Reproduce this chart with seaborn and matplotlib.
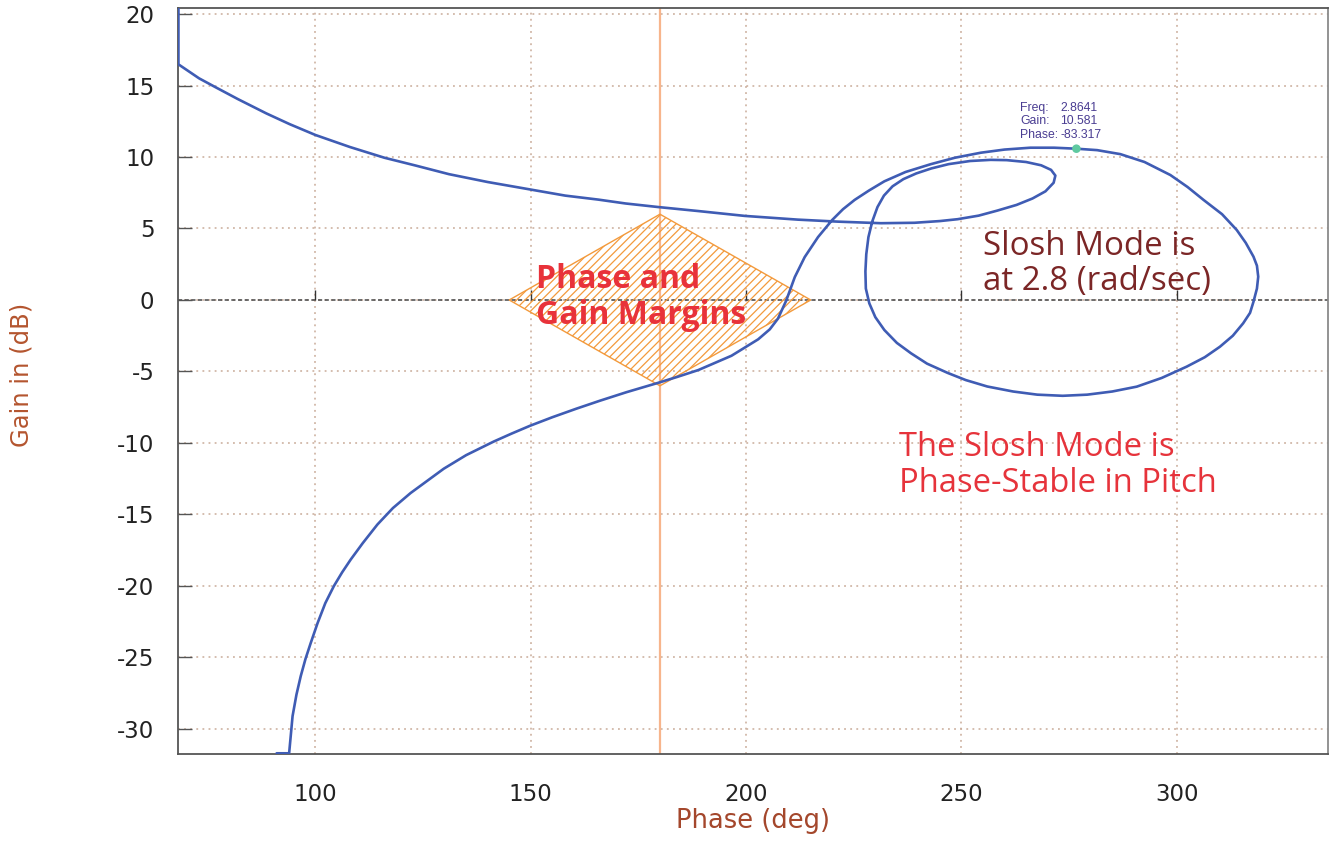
import numpy as np
import pandas as pd
import matplotlib
matplotlib.use("Agg")
import matplotlib.pyplot as plt
import seaborn as sns

# Nichols locus of the pitch loop, ordered along frequency
phase_deg = [
    # low-frequency branch (rising from the bottom)
    91.0, 93.9, 94.7, 95.6, 96.6, 97.7, 98.9, 100.5, 102.3, 104.3, 106.2,
    108.2, 111.0, 114.4, 118.0, 122.1, 129.8, 135.0, 141.4, 145.5, 149.8,
    155.0, 160.6, 166.0, 172.2, 179.5, 184.0, 188.9, 196.6, 202.8, 205.5,
    207.4, 209.3,
    # outer slosh loop
    211.3, 213.6, 216.7, 220.0, 222.5, 225.2, 228.5, 232.1, 237.0, 242.9,
    248.5, 254.5, 260.0, 266.0, 271.5, 276.7, 281.5, 286.9, 292.5, 298.5,
    302.5, 306.2, 310.5, 313.9, 316.0, 317.8, 318.6, 318.9, 318.6, 317.8,
    317.0, 315.4, 313.0, 310.0, 306.5, 302.3, 296.5, 290.7, 285.0, 279.2,
    273.5, 267.6, 262.0, 256.0, 251.0, 246.8, 242.0, 238.3, 235.0, 232.1,
    230.0, 228.6, 227.8, 227.7, 227.9, 228.4, 229.3, 230.5, 232.0, 234.0,
    # inner loop
    236.5, 239.5, 243.0, 247.0, 252.0, 256.8, 260.5, 265.0, 268.5, 270.8,
    271.8, 271.4, 269.5, 266.5, 262.8, 258.3, 254.0, 249.1, 245.0, 239.1,
    231.3,
    # high-frequency branch (running out to the left)
    221.3, 212.0, 199.7, 188.9, 179.6, 172.0, 165.7, 158.0, 150.0, 140.0,
    131.0, 123.3, 116.0, 108.0, 100.0, 94.0, 88.6, 82.0, 77.0, 73.0,
    68.2, 68.2,
]
gain_db = [
    -31.7, -31.7, -29.1, -27.6, -26.3, -25.1, -24.0, -22.6, -21.2, -20.0, -19.05,
    -18.15, -17.0, -15.7, -14.55, -13.5, -11.8, -10.85, -9.9, -9.35, -8.8,
    -8.2, -7.6, -7.05, -6.45, -5.8, -5.38, -4.9, -3.9, -2.75, -2.05,
    -1.3, -0.05,
    1.6, 3.0, 4.4, 5.6, 6.35, 7.0, 7.65, 8.3, 8.95, 9.5,
    9.95, 10.3, 10.52, 10.65, 10.65, 10.58, 10.48, 10.2, 9.65, 8.74,
    7.9, 7.0, 6.0, 4.9, 4.0, 3.03, 2.4, 1.63, 0.8, -0.12,
    -0.9, -1.63, -2.5, -3.27, -4.0, -4.66, -5.45, -6.06, -6.4, -6.62,
    -6.7, -6.62, -6.4, -6.05, -5.6, -5.1, -4.45, -3.73, -3.0, -2.1,
    -1.2, -0.23, 0.8, 2.0, 3.2, 4.4, 5.5, 6.5, 7.3, 7.95,
    8.45, 8.85, 9.2, 9.5, 9.72, 9.8, 9.78, 9.65, 9.42, 9.1,
    8.7, 8.2, 7.6, 7.1, 6.65, 6.25, 5.9, 5.65, 5.52, 5.4,
    5.37,
    5.48, 5.62, 5.88, 6.22, 6.5, 6.75, 7.02, 7.3, 7.72, 8.25,
    8.8, 9.4, 9.95, 10.7, 11.54, 12.3, 13.05, 14.05, 14.85, 15.5,
    16.48, 20.4,
]

# Stability-margin diamond (phase, gain)
margin_phase = [145, 180, 215, 180]
margin_gain = [0, 6, 0, -6]

# Cursor readout at the slosh peak
cursor_freq = 2.8641
cursor_gain = 10.581
cursor_phase = -83.317

x_ticks = [100, 150, 200, 250, 300]
y_ticks = [-30, -25, -20, -15, -10, -5, 0, 5, 10, 15, 20]

sns.set_theme(style="white")
plt.rcParams["font.family"] = ["DejaVu Sans"]
plt.rcParams["axes.unicode_minus"] = False
plt.rcParams["hatch.linewidth"] = 0.9

fig = plt.figure(figsize=(13.32, 8.41), dpi=100)
ax = fig.add_axes([178 / 1332, 1 - 754 / 841, 1150 / 1332, 746 / 841])

ax.set_xlim(68.1, 335.1)
ax.set_ylim(-31.75, 20.42)

# grid
ax.set_xticks(x_ticks)
ax.set_yticks(y_ticks)
ax.grid(True, color="#c9ab98", linestyle=(0, (1.2, 2.8)), linewidth=1.1)
ax.set_axisbelow(True)

ax.tick_params(axis="x", length=0, pad=21, labelsize=16.5, labelcolor="#222222")
ax.tick_params(axis="y", direction="in", length=10, width=1.0, color="#555555",
               pad=17, labelsize=16.5, labelcolor="#222222", left=True)

for side, sp in ax.spines.items():
    sp.set_color("#555555")
    sp.set_linewidth(1.3)
ax.spines["right"].set_color("#8a8a8a")

# 0 dB line with its small ticks
ax.axhline(0, color="#555555", linestyle=(0, (2.5, 1.5)), linewidth=1.2, zorder=2)
ax.plot(x_ticks, [0] * len(x_ticks), linestyle="none", marker=2,
        markersize=7, markeredgewidth=1.0, color="#333333", zorder=2)

# -180 deg reference line
ax.axvline(180, color="#f7b58c", linewidth=1.6, zorder=2)

# margin diamond
ax.fill(margin_phase, margin_gain, facecolor="none", edgecolor="#f39a3c",
        hatch="////", linewidth=1.0, zorder=2)

# Nichols curve
curve = pd.DataFrame({"phase": phase_deg, "gain": gain_db})
sns.lineplot(data=curve, x="phase", y="gain", sort=False, estimator=None,
             color="#3f5cb4", linewidth=1.9, ax=ax, zorder=4)

# cursor marker and readout
marker_df = pd.DataFrame({"phase": [cursor_phase + 360], "gain": [cursor_gain]})
sns.scatterplot(data=marker_df, x="phase", y="gain", color="#5fc9a0",
                s=38, edgecolor="none", ax=ax, zorder=5)
read_color = "#4a3d92"
read_font = ["Liberation Sans", "DejaVu Sans"]
rows = [("Freq:", f"{cursor_freq:.4f}", 29.2),
        ("Gain:", f"{cursor_gain:.3f}", 19.6),
        ("Phase:", f"{cursor_phase:.3f}", 10.0)]
for name, val, dy in rows:
    ax.annotate(name, xy=(cursor_phase + 360, cursor_gain), xycoords="data",
                xytext=(-40.5, dy), textcoords="offset points", family=read_font,
                ha="left", va="center", fontsize=8.8, color=read_color)
    ax.annotate(val, xy=(cursor_phase + 360, cursor_gain), xycoords="data",
                xytext=(-11.5, dy), textcoords="offset points", family=read_font,
                ha="left", va="center", fontsize=8.8, color=read_color)

# annotations
note_font = ["Open Sans", "DejaVu Sans"]
ax.text(151.2, 0.2, "Phase and\nGain Margins", fontsize=23, fontweight="bold",
        color="#e8323a", ha="left", va="center", family=note_font,
        linespacing=1.13, zorder=6)
ax.text(255.1, 2.5, "Slosh Mode is\nat 2.8 (rad/sec)", fontsize=23.8,
        color="#7b2626", ha="left", va="center", family=note_font,
        linespacing=1.1, zorder=6)
ax.text(235.6, -11.6, "The Slosh Mode is\nPhase-Stable in Pitch", fontsize=23.6,
        color="#e6333b", ha="left", va="center", family=note_font,
        linespacing=1.12, zorder=6)

ax.set_xlabel("Phase (deg)", fontsize=18.5, color="#a4472c")
ax.set_ylabel("Gain in (dB)", fontsize=17.5, color="#b4552f")
ax.xaxis.set_label_coords(0.5, -0.073)
ax.yaxis.set_label_coords(-0.126, 0.508)

fig.savefig("out.png", dpi=100, facecolor="white")
